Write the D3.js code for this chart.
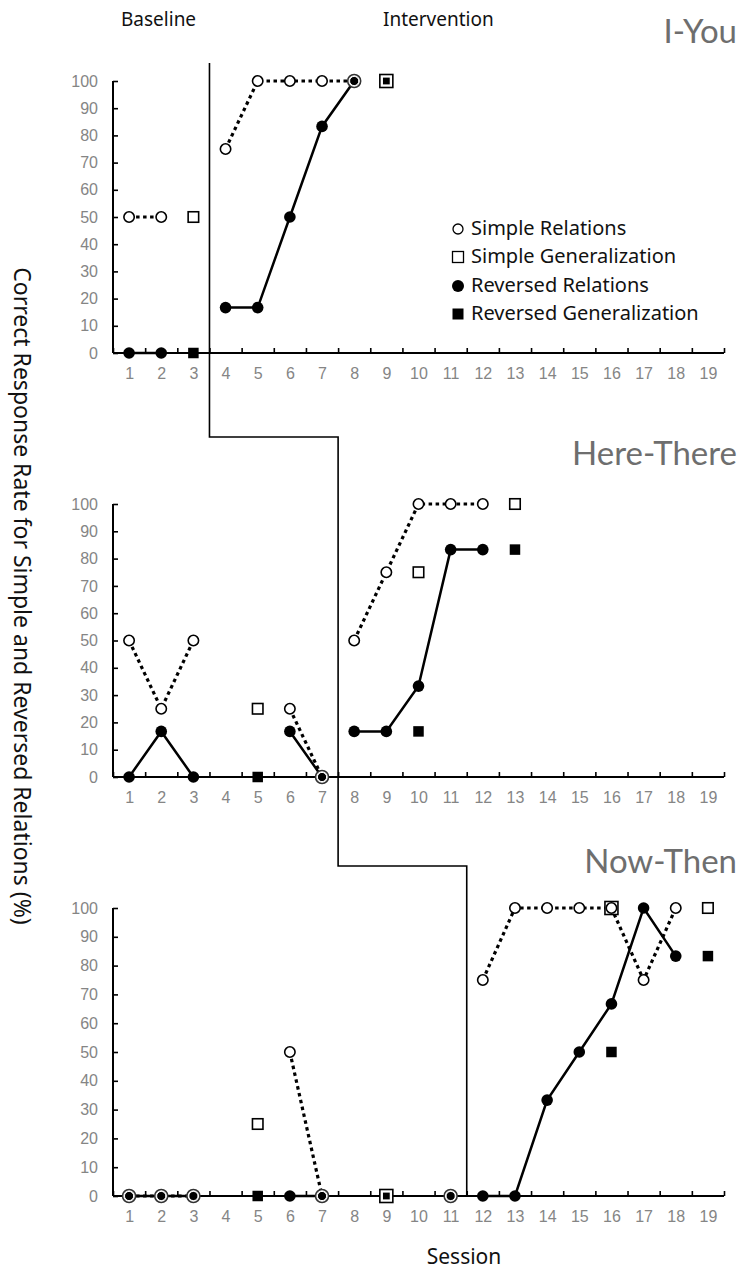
<!DOCTYPE html>
<html>
<head>
<meta charset="utf-8">
<script src="https://cdn.jsdelivr.net/npm/d3@7"></script>
<style>
	body { margin: 0; background: #fff; }
	svg { display: block; }
</style>
</head>
<body>
<div id="chart"></div>
<script>
// Data (null = no session)
const _ = null;
const sessions = d3.range(1, 20);
const yTicks = d3.range(0, 101, 10);
const panelNames = ["I-You", "Here-There", "Now-Then"];
const phaseChange = [3.5, 7.5, 11.5];
const legendNames = ["Simple Relations", "Simple Generalization", "Reversed Relations", "Reversed Generalization"];

const iYouSimpleRel = [50, 50, _, 75, 100, 100, 100, 100, _, _, _, _, _, _, _, _, _, _, _];
const iYouSimpleGen = [_, _, 50, _, _, _, _, _, 100, _, _, _, _, _, _, _, _, _, _];
const iYouRevRel    = [0, 0, _, 16.7, 16.7, 50, 83.3, 100, _, _, _, _, _, _, _, _, _, _, _];
const iYouRevGen    = [_, _, 0, _, _, _, _, _, 100, _, _, _, _, _, _, _, _, _, _];

const hereSimpleRel = [50, 25, 50, _, _, 25, 0, 50, 75, 100, 100, 100, _, _, _, _, _, _, _];
const hereSimpleGen = [_, _, _, _, 25, _, _, _, _, 75, _, _, 100, _, _, _, _, _, _];
const hereRevRel    = [0, 16.7, 0, _, _, 16.7, 0, 16.7, 16.7, 33.3, 83.3, 83.3, _, _, _, _, _, _, _];
const hereRevGen    = [_, _, _, _, 0, _, _, _, _, 16.7, _, _, 83.3, _, _, _, _, _, _];

const nowSimpleRel = [0, 0, 0, _, _, 50, 0, _, _, _, 0, 75, 100, 100, 100, 100, 75, 100, _];
const nowSimpleGen = [_, _, _, _, 25, _, _, _, 0, _, _, _, _, _, _, 100, _, _, 100];
const nowRevRel    = [0, 0, 0, _, _, 0, 0, _, _, _, 0, 0, 0, 33.3, 50, 66.7, 100, 83.3, _];
const nowRevGen    = [_, _, _, _, 0, _, _, _, 0, _, _, _, _, _, _, 50, _, _, 83.3];

const panelData = [
	[iYouSimpleRel, iYouSimpleGen, iYouRevRel, iYouRevGen],
	[hereSimpleRel, hereSimpleGen, hereRevRel, hereRevGen],
	[nowSimpleRel, nowSimpleGen, nowRevRel, nowRevGen]
];

// layout
const W = 740, H = 1270;
const panelBox = [
	{ y0: 353, y100: 81, titleY: 43 },
	{ y0: 777, y100: 504, titleY: 465 },
	{ y0: 1196, y100: 908, titleY: 873 }
];
const stepY = [63, 437, 866];

const svg = d3.select("#chart").append("svg")
	.attr("width", W)
	.attr("height", H)
	.attr("viewBox", [0, 0, W, H]);

const x = d3.scaleLinear().domain([0.5, 19.5]).range([113, 724]);

const labelFont = "'Noto Sans', 'Open Sans', sans-serif";
const tickFont = "'Liberation Sans', Arial, sans-serif";

function toPoints(arr, split) {
	let pts = arr.map((v, i) => ({ s: i + 1, v: v }));
	// break the line at the phase change
	let k = Math.floor(split);
	pts.splice(k, 0, { s: split, v: null });
	return pts;
}

panelData.forEach((series, p) => {
	const box = panelBox[p];
	const y = d3.scaleLinear().domain([0, 100]).range([box.y0, box.y100]);
	const g = svg.append("g").attr("class", "panel");

	// title
	g.append("text")
		.attr("x", 737)
		.attr("y", box.titleY)
		.attr("text-anchor", "end")
		.style("font-family", "Lato, 'Open Sans', sans-serif")
		.style("font-size", "33px")
		.style("fill", "#6e6e6e")
		.text(panelNames[p]);

	// x ticks at session boundaries
	const xTickG = g.append("g")
		.attr("transform", `translate(0,${box.y0})`)
		.call(d3.axisBottom(x).tickValues(d3.range(0.5, 19.6, 1)).tickSize(-5).tickFormat(""));
	xTickG.select(".domain").remove();
	xTickG.selectAll("line").attr("stroke", "#000").attr("stroke-width", 1.6);

	// x labels
	const xLabG = g.append("g")
		.attr("transform", `translate(0,${box.y0})`)
		.call(d3.axisBottom(x).tickValues(sessions).tickSize(0).tickPadding(15));
	xLabG.select(".domain").remove();
	xLabG.selectAll("text")
		.style("font-family", tickFont)
		.style("font-size", "16px")
		.style("fill", "#858585");

	// y axis
	const yAxG = g.append("g")
		.attr("transform", `translate(${x(0.5)},0)`)
		.call(d3.axisLeft(y).tickValues(yTicks).tickSize(-5).tickPadding(15));
	yAxG.select(".domain").remove();
	yAxG.selectAll("line").attr("stroke", "#000").attr("stroke-width", 1.6);
	yAxG.selectAll("text")
		.style("font-family", tickFont)
		.style("font-size", "16px")
		.style("fill", "#858585");

	// axis lines
	g.append("line")
		.attr("x1", x(0.5)).attr("x2", x(19.5))
		.attr("y1", box.y0).attr("y2", box.y0)
		.attr("stroke", "#000").attr("stroke-width", 2);
	g.append("line")
		.attr("x1", x(0.5)).attr("x2", x(0.5))
		.attr("y1", box.y0).attr("y2", box.y100)
		.attr("stroke", "#000").attr("stroke-width", 2);

	const line = d3.line()
		.defined(d => d.v != null)
		.x(d => x(d.s))
		.y(d => y(d.v));

	const [simpleRel, simpleGen, revRel, revGen] = series;

	// simple relations - dotted
	g.append("path")
		.datum(toPoints(simpleRel, phaseChange[p]))
		.attr("d", line)
		.attr("fill", "none")
		.attr("stroke", "#000")
		.attr("stroke-width", 3.2)
		.attr("stroke-dasharray", "3.5,3.5");

	// reversed relations - solid
	g.append("path")
		.datum(toPoints(revRel, phaseChange[p]))
		.attr("d", line)
		.attr("fill", "none")
		.attr("stroke", "#000")
		.attr("stroke-width", 2.5);

	const pts = arr => arr.map((v, i) => ({ s: i + 1, v: v, i: i })).filter(d => d.v != null);

	// open squares
	g.selectAll(".sgen").data(pts(simpleGen)).join("rect")
		.attr("class", "sgen")
		.each(function(d) {
			let big = revGen[d.i] === d.v || simpleRel[d.i] === d.v;
			let sz = big ? 13 : 10.5;
			d3.select(this)
				.attr("x", x(d.s) - sz / 2)
				.attr("y", y(d.v) - sz / 2)
				.attr("width", sz)
				.attr("height", sz);
		})
		.attr("fill", "#fff")
		.attr("stroke", "#000")
		.attr("stroke-width", 1.6);

	// open circles
	g.selectAll(".srel").data(pts(simpleRel)).join("circle")
		.attr("class", "srel")
		.attr("cx", d => x(d.s))
		.attr("cy", d => y(d.v))
		.attr("r", d => revRel[d.i] === d.v ? 6.5 : 5.2)
		.attr("fill", "#fff")
		.attr("stroke", d => revRel[d.i] === d.v ? "#333" : "#000")
		.attr("stroke-width", 1.6);

	// filled squares
	g.selectAll(".rgen").data(pts(revGen)).join("rect")
		.attr("class", "rgen")
		.each(function(d) {
			let inner = simpleGen[d.i] === d.v;
			let sz = inner ? 8 : 10.5;
			d3.select(this)
				.attr("x", x(d.s) - sz / 2)
				.attr("y", y(d.v) - sz / 2)
				.attr("width", sz)
				.attr("height", sz)
				.attr("stroke", inner ? "#fff" : "none")
				.attr("stroke-width", inner ? 1.2 : 0);
		})
		.attr("fill", "#000");

	// filled circles
	g.selectAll(".rrel").data(pts(revRel)).join("circle")
		.attr("class", "rrel")
		.attr("cx", d => x(d.s))
		.attr("cy", d => y(d.v))
		.attr("r", d => simpleRel[d.i] === d.v ? 4.6 : 5.8)
		.attr("fill", "#000")
		.attr("stroke", d => simpleRel[d.i] === d.v ? "#fff" : "none")
		.attr("stroke-width", 1);
});

// phase change line
const phasePath = [
	[x(phaseChange[0]), stepY[0]],
	[x(phaseChange[0]), stepY[1]],
	[x(phaseChange[1]), stepY[1]],
	[x(phaseChange[1]), stepY[2]],
	[x(phaseChange[2]), stepY[2]],
	[x(phaseChange[2]), panelBox[2].y0]
];
svg.append("path")
	.attr("d", d3.line()(phasePath))
	.attr("fill", "none")
	.attr("stroke", "#000")
	.attr("stroke-width", 1.6);

// phase labels
svg.append("text")
	.attr("x", 121).attr("y", 26)
	.style("font-family", labelFont).style("font-size", "19px").style("fill", "#111")
	.text("Baseline");
svg.append("text")
	.attr("x", 383).attr("y", 26)
	.style("font-family", labelFont).style("font-size", "19px").style("fill", "#111")
	.text("Intervention");

// legend
const legend = svg.append("g").attr("transform", "translate(458,0)");
const legendY = [235, 263, 292, 320];
legendNames.forEach((name, i) => {
	const cy = legendY[i] - 6;
	if (i === 0) {
		legend.append("circle").attr("cx", 0).attr("cy", cy).attr("r", 5)
			.attr("fill", "#fff").attr("stroke", "#000").attr("stroke-width", 1.3);
	} else if (i === 1) {
		legend.append("rect").attr("x", -5.5).attr("y", cy - 5.5).attr("width", 11).attr("height", 11)
			.attr("fill", "#fff").attr("stroke", "#000").attr("stroke-width", 1.3);
	} else if (i === 2) {
		legend.append("circle").attr("cx", 0).attr("cy", cy).attr("r", 6).attr("fill", "#000");
	} else {
		legend.append("rect").attr("x", -5.5).attr("y", cy - 5.5).attr("width", 11).attr("height", 11)
			.attr("fill", "#000");
	}
	legend.append("text")
		.attr("x", 13).attr("y", legendY[i])
		.style("font-family", labelFont).style("font-size", "20px").style("fill", "#111")
		.text(name);
});

// axis titles
svg.append("text")
	.attr("transform", "translate(14,596) rotate(90)")
	.attr("text-anchor", "middle")
	.style("font-family", labelFont).style("font-size", "23px").style("fill", "#111")
	.text("Correct Response Rate for Simple and Reversed Relations (%)");

svg.append("text")
	.attr("x", 464).attr("y", 1264)
	.attr("text-anchor", "middle")
	.style("font-family", labelFont).style("font-size", "21px").style("fill", "#111")
	.text("Session");
</script>
</body>
</html>
